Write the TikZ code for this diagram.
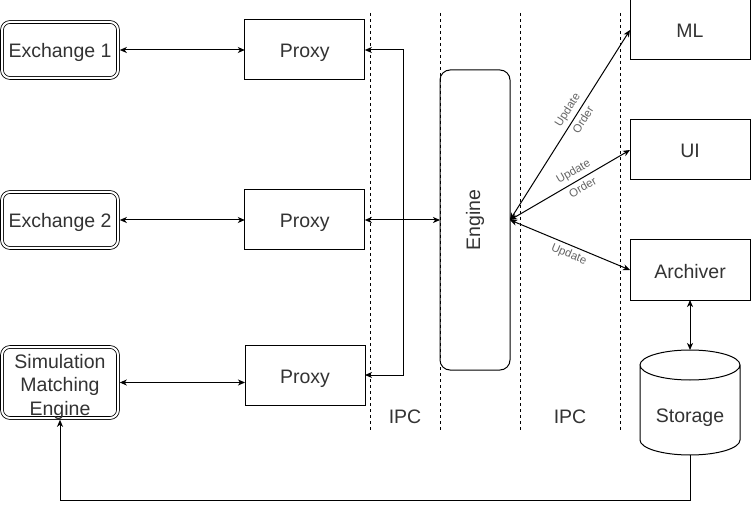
\documentclass[tikz,border=0pt]{standalone}
\usepackage{fontspec}
\setmainfont{Liberation Sans}
\usepackage{tikz,graphicx}
\usetikzlibrary{positioning,arrows.meta,calc}
\tikzstyle{xbox}=[rectangle, rounded corners=8pt, draw=black, double, double distance=2pt, line width=0.8pt, outer sep=1.8pt, minimum width=116pt, minimum height=56pt, inner sep=2pt, align=center, text=black!80, text height=16pt, text depth=0pt, font=\fontsize{19.5}{23.5}\selectfont]
\tikzstyle{pbox}=[rectangle, draw=black, line width=1pt, outer sep=0pt, minimum width=120pt, minimum height=60pt, inner sep=2pt, text=black!80, text height=16pt, text depth=0pt, font=\fontsize{19.5}{23.5}\selectfont]
\tikzstyle{ebox}=[pbox, rounded corners=10pt, minimum width=70pt, minimum height=300pt, text height=, text depth=]
\tikzstyle{sbox}=[rectangle, outer sep=0pt, minimum width=100pt, minimum height=105pt]
\tikzstyle{ptext}=[text=black!80, font=\fontsize{19.5}{23.5}\selectfont]
\tikzstyle{pline}=[-, line width=1pt]
\tikzstyle{parrow}=[pline, {Stealth[length=7pt,width=6pt,inset=2pt]}-{Stealth[length=7pt,width=6pt,inset=2pt]}]
\tikzstyle{tarrow}=[pline, -{Stealth[length=7pt,width=6pt,inset=2pt]}]
\tikzstyle{dline}=[-, line width=0.8pt, dash pattern=on 3pt off 3pt]
\tikzstyle{elabel}=[sloped, inner sep=3.5pt, text=black!60, font=\fontsize{11.5}{13}\selectfont]

\begin{document}
\begin{tikzpicture}[x=1pt, y=1pt, node distance=0pt]
\fill[white] (0,0) rectangle (751,509);
\useasboundingbox (0,0) rectangle (751,509);
% IPC borders
\foreach \x in {370,440,520,620}
  \draw[dline] (\x,496) -- (\x,79);
\node (IPCA) [ptext] at (405,92) {IPC};
\node (IPCB) [ptext] at (570,92) {IPC};
% exchanges and proxies
\node (EX1) [xbox] at (60,459) {Exchange 1};
\node (EX2) [xbox] at (60,289) {Exchange 2};
\node (SIM) [xbox, minimum height=71pt, text height=65pt] at (60,126.5) {Simulation\\Matching\\Engine};
\node (PX1) [pbox, right=125pt of EX1] {Proxy};
\node (PX2) [pbox, right=125pt of EX2] {Proxy};
\node (PX3) [pbox] at (305,134) {Proxy};
\node (ENG) [ebox] at (475,289) {\rotatebox{90}{\raisebox{3pt}{Engine}}};
% consumers
\node (ML) [pbox] at (690,479) {ML};
\node (UI) [pbox, below=60pt of ML] {UI};
\node (ARC) [pbox, below=60pt of UI] {Archiver};
\node (STO) [sbox, below=50pt of ARC] {};
\node (STOT) [ptext] at ([yshift=-15pt]STO.center) {Storage};
\draw[pline] ([yshift=-15pt]STO.north west) -- ([yshift=15pt]STO.south west)
  arc[start angle=180, end angle=360, x radius=50pt, y radius=15pt]
  -- ([yshift=-15pt]STO.north east)
  arc[start angle=0, end angle=180, x radius=50pt, y radius=15pt]
  arc[start angle=180, end angle=360, x radius=50pt, y radius=15pt];
% connections
\coordinate (BUS) at (403,289);
\coordinate (LOOP) at (60,9);
\draw[parrow] (EX1) -- (PX1);
\draw[parrow] (EX2) -- (PX2);
\draw[parrow] (SIM.east) -- (SIM.east -| PX3.west);
\draw[tarrow] (BUS) |- (PX1);
\draw[tarrow] (BUS) |- (PX3);
\draw[parrow] (PX2) -- (ENG);
\draw[parrow] (ENG.east) -- (ML.west)
  node[elabel, above, pos=0.55] {Update} node[elabel, below, pos=0.55] {Order};
\draw[parrow] (ENG.east) -- (UI.west)
  node[elabel, above, pos=0.57] {Update} node[elabel, below, pos=0.57] {Order};
\draw[parrow] (ENG.east) -- (ARC.west)
  node[elabel, below, pos=0.52] {Update};
\draw[parrow] (ARC) -- (STO);
\draw[tarrow] (STO.south) |- (LOOP) -- (SIM.south);
\end{tikzpicture}
\end{document}
